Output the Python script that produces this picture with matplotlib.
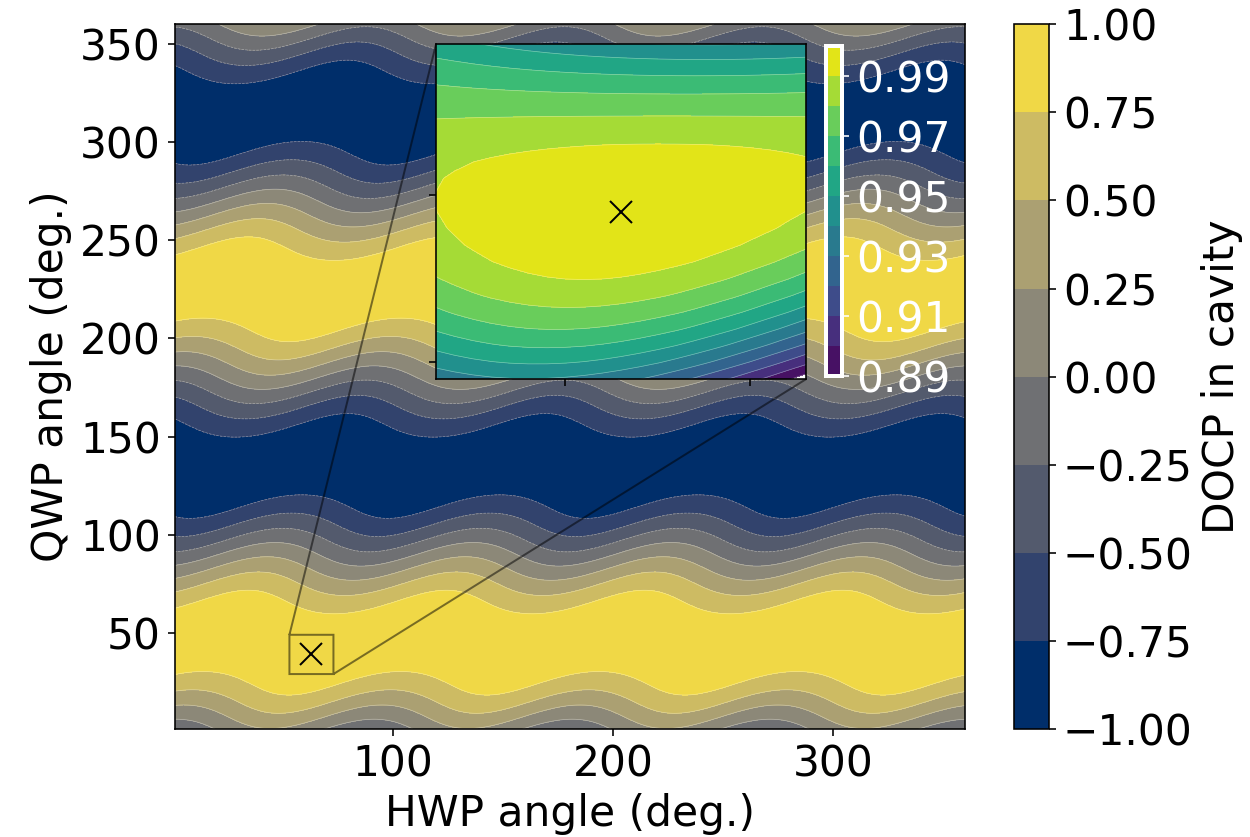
import numpy as np
import matplotlib
matplotlib.use('Agg')
import matplotlib.pyplot as plt

plt.rcParams['font.size'] = 21.2

# waveplate angle grids (deg.)
hwp = np.arange(1, 361, 1.0)
qwp = np.arange(1, 361, 1.0)

# model parameters
hwp_offset = 66.0      # HWP zero offset (deg.)
cavity_ret = -12.0     # residual cavity birefringence (deg.)
s_in = np.array([1.0, -1.0, 0.0, 0.0])   # vertical input

# best setting marked with x
best_hwp = 63
best_qwp = 39

main_levels = np.linspace(-1, 1, 9)
main_ticks = [-1.0, -0.75, -0.5, -0.25, 0.0, 0.25, 0.5, 0.75, 1.0]
zoom_levels = np.round(np.arange(0.89, 1.0001, 0.01), 2)
zoom_ticks = [0.89, 0.91, 0.93, 0.95, 0.97, 0.99]
zoom_xlim = (53, 73)
zoom_ylim = (29, 49)


def retarder(theta, delta):
    c = np.cos(2 * theta)
    s = np.sin(2 * theta)
    cd = np.cos(delta)
    sd = np.sin(delta)
    o = np.zeros_like(c)
    l = np.ones_like(c)
    return np.array([[l, o, o, o],
                     [o, c**2 + s**2 * cd, c * s * (1 - cd), -s * sd],
                     [o, c * s * (1 - cd), s**2 + c**2 * cd, c * sd],
                     [o, s * sd, -c * sd, cd * l]])


H, Q = np.meshgrid(hwp, qwp)
qmat = retarder(np.radians(Q), np.pi / 2)
hmat = retarder(np.radians(H - hwp_offset), np.pi)
cmat = retarder(np.zeros_like(H), np.radians(cavity_ret))
s1 = np.einsum('ijab,j->iab', qmat, s_in)
s2 = np.einsum('ijab,jab->iab', hmat, s1)
s3 = np.einsum('ijab,jab->iab', cmat, s2)
docp = s3[3] / s3[0]

fig = plt.figure(figsize=(1250 / 144, 837 / 144), dpi=144)
ax = fig.add_axes([0.14, 0.129, 0.632, 0.842])
cs = ax.contourf(hwp, qwp, docp, levels=main_levels, cmap='cividis')
ax.contour(hwp, qwp, docp, levels=main_levels, colors='white', linewidths=0.35, alpha=0.4)
ax.plot(best_hwp, best_qwp, 'x', color='black', ms=11, mew=1.0)
ax.set_xlabel('HWP angle (deg.)')
ax.set_ylabel('QWP angle (deg.)')

cax = fig.add_axes([0.8112, 0.129, 0.028, 0.842])
cb = fig.colorbar(cs, cax=cax, ticks=main_ticks)
cb.ax.set_yticklabels(['%.2f' % t if t >= 0 else '\u2212%.2f' % -t for t in main_ticks])
cb.set_label('DOCP in cavity')

# zoomed inset
axins = fig.add_axes([0.3488, 0.547, 0.296, 0.4])
sel_h = (hwp >= zoom_xlim[0] - 1) & (hwp <= zoom_xlim[1] + 1)
sel_q = (qwp >= zoom_ylim[0] - 1) & (qwp <= zoom_ylim[1] + 1)
sub = docp[np.ix_(sel_q, sel_h)]
cs2 = axins.contourf(hwp[sel_h], qwp[sel_q], sub, levels=zoom_levels, cmap='viridis')
axins.contour(hwp[sel_h], qwp[sel_q], sub, levels=zoom_levels, colors='white', linewidths=0.35, alpha=0.4)
axins.plot(best_hwp, best_qwp, 'x', color='black', ms=11, mew=1.0)
axins.set_xlim(zoom_xlim)
axins.set_ylim(zoom_ylim)
axins.set_xticks([60, 70])
axins.set_yticks([30, 40])
axins.set_xticklabels([])
axins.set_yticklabels([])
ax.indicate_inset_zoom(axins, edgecolor='black')

cax2 = fig.add_axes([0.6608, 0.551, 0.0128, 0.394])
cb2 = fig.colorbar(cs2, cax=cax2, ticks=zoom_ticks)
cb2.ax.set_yticklabels(['%.2f' % t for t in zoom_ticks])
cb2.ax.tick_params(colors='white', labelcolor='white')
cb2.outline.set_edgecolor('white')
cb2.outline.set_linewidth(2)

fig.savefig('out.png', dpi=144)
